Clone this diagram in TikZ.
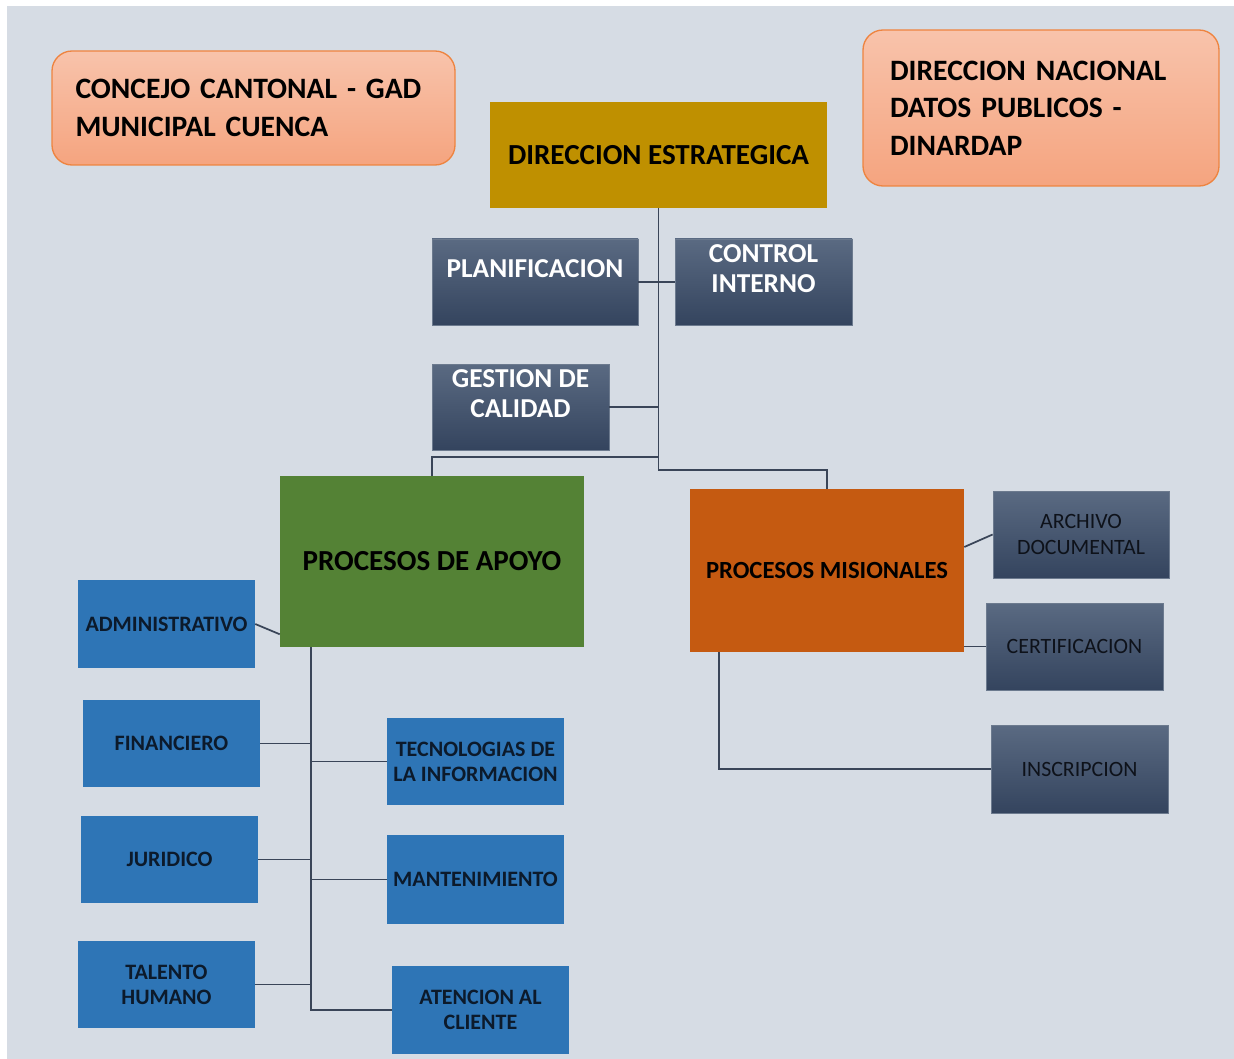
\documentclass[tikz,border=0pt]{standalone}
\usepackage{fontspec}
\setmainfont{Carlito}
\usetikzlibrary{calc}

\definecolor{bgc}{HTML}{D6DCE4}
\definecolor{notetop}{HTML}{F8C3AB}
\definecolor{notebot}{HTML}{F5A47F}
\definecolor{noteline}{HTML}{EE8440}
\definecolor{darktop}{HTML}{5A6A82}
\definecolor{darkbot}{HTML}{34445E}
\definecolor{darkline}{HTML}{6C7A8E}
\definecolor{darktxt}{HTML}{0E121A}
\definecolor{dirgold}{HTML}{BF9000}
\definecolor{apoyogreen}{HTML}{548235}
\definecolor{misorange}{HTML}{C55A11}
\definecolor{unitblue}{HTML}{2E75B6}
\definecolor{unittxt}{HTML}{0C1A2B}
\definecolor{linkc}{HTML}{3A4558}

\tikzset{
  box/.style={rectangle,inner sep=2pt,align=center},
  dims/.style 2 args={minimum width=#1*0.75pt,minimum height=#2*0.75pt},
  note/.style={box,rounded corners=15pt,draw=noteline,line width=1pt,top color=notetop,bottom color=notebot,align=left,font=\bfseries\fontsize{22.2}{28}\selectfont},
  dark/.style={box,draw=darkline,line width=0.6pt,top color=darktop,bottom color=darkbot},
  darkbig/.style={dark,text=white,font=\bfseries\fontsize{20.5}{22}\selectfont},
  darksmall/.style={dark,text=darktxt,font=\fontsize{16.4}{18.8}\selectfont},
  unit/.style={box,fill=unitblue,text=unittxt,font=\bfseries\fontsize{16.5}{18.8}\selectfont},
  head/.style={box,text=black,font=\bfseries\fontsize{21.8}{26}\selectfont},
  link/.style={draw=linkc,line width=1.3pt}
}

\begin{document}
\begin{tikzpicture}[x=0.75pt,y=-0.75pt]

\fill[white] (0,0) rectangle (1234,1059);
\fill[bgc] (7,6) rectangle (1234,1059);
\useasboundingbox (0,0) rectangle (1234,1059);

% cabecera
\node[note,text width=267pt,inner xsep=17.6pt,dims={403}{114}] (concejo) at (253.5,108) {CONCEJO CANTONAL - GAD\\MUNICIPAL CUENCA};
\node[note,text width=226.5pt,inner xsep=20.25pt,dims={356}{156}] (dinardap) at (1041,108) {DIRECCION NACIONAL\\DATOS PUBLICOS -\\DINARDAP};
\node[head,fill=dirgold,dims={337}{106}] (dir) at (658.5,155) {DIRECCION ESTRATEGICA};

% asesoria
\node[darkbig,dims={206}{86}] (plan) at (535,282) {PLANIFICACION\\[-2pt]\mbox{}};
\node[darkbig,dims={177}{86}] (ctrl) at (763.5,282) {CONTROL\\INTERNO\\[-2pt]\mbox{}};
\node[darkbig,dims={177}{86}] (gest) at (520.5,407) {GESTION DE\\CALIDAD\\[-2pt]\mbox{}};

% procesos
\node[head,fill=apoyogreen,dims={304}{171}] (apoyo) at (432,561.5) {PROCESOS DE APOYO};
\node[head,fill=misorange,font=\bfseries\fontsize{18.5}{22}\selectfont,dims={274}{163}] (mis) at (827,570.5) {PROCESOS MISIONALES};

% misionales
\node[darksmall,dims={176}{87}] (arch) at (1081,534.5) {ARCHIVO\\DOCUMENTAL};
\node[darksmall,dims={177}{87}] (cert) at (1074.5,646.5) {CERTIFICACION};
\node[darksmall,dims={177}{88}] (insc) at (1079.5,769) {INSCRIPCION};

% apoyo
\node[unit,dims={177}{88}] (adm) at (166.5,624) {ADMINISTRATIVO};
\node[unit,dims={177}{87}] (fin) at (171.5,743.5) {FINANCIERO};
\node[unit,dims={177}{87}] (jur) at (169.5,859.5) {JURIDICO};
\node[unit,dims={177}{87}] (tal) at (166.5,984.5) {TALENTO\\HUMANO};
\node[unit,dims={177}{87}] (tec) at (475.5,761.5) {TECNOLOGIAS DE\\LA INFORMACION};
\node[unit,dims={177}{89}] (man) at (475.5,879.5) {MANTENIMIENTO};
\node[unit,dims={177}{88}] (ate) at (480.5,1010) {ATENCION AL\\CLIENTE};

% conectores
\coordinate (misup) at (827,470);
\coordinate (apup) at (432,457);
\coordinate (apsp) at ($(apoyo.south west)+(31,0)$);
\draw[link] (dir.south) |- (misup) -- (mis.north);
\draw[link] (dir.south |- apup) -- (apup) -- (apoyo.north);
\draw[link] (plan.east) -- (ctrl.west);
\draw[link] (gest.east) -- (gest.east -| dir.south);
\draw[link] ($(mis.east)+(0,-23.5)$) -- (arch.west);
\draw[link] (cert.west) -- (cert.west -| mis.east);
\draw[link] ($(mis.south west)+(29,0)$) |- (insc.west);
\draw[link] (adm.east) -- ($(apoyo.south west)+(0,-13)$);
\draw[link] (apsp) |- (ate.west);
\draw[link] (fin.east) -- (fin.east -| apsp);
\draw[link] (jur.east) -- (jur.east -| apsp);
\draw[link] (tal.east) -- (tal.east -| apsp);
\draw[link] (tec.west) -- (tec.west -| apsp);
\draw[link] (man.west) -- (man.west -| apsp);
\end{tikzpicture}
\end{document}
